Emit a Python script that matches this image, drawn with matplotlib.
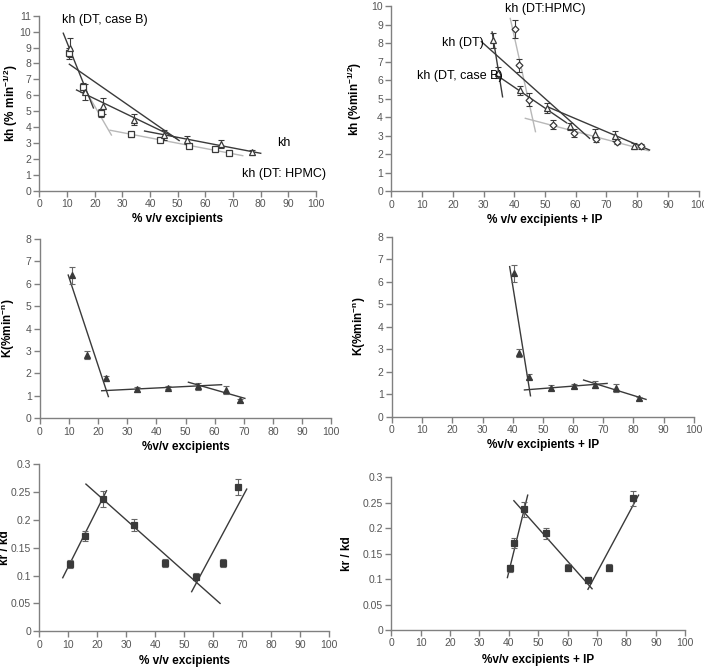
import numpy as np
import matplotlib
matplotlib.use("Agg")
import matplotlib.pyplot as plt

plt.rcParams['font.family'] = ['Liberation Sans', 'DejaVu Sans']
plt.rcParams['mathtext.fontset'] = 'custom'
plt.rcParams['mathtext.rm'] = 'Liberation Sans'
plt.rcParams['mathtext.it'] = 'Liberation Sans:italic'
plt.rcParams['mathtext.bf'] = 'Liberation Sans:bold'

# ---------------------------------
# Data
# ---------------------------------
XTICKS = np.arange(0, 101, 10)

# top left: kh vs % v/v excipients
kh_x = [11, 16.5, 23, 34, 45, 53.5, 65.5, 77]
kh_y = [9.0, 6.2, 5.3, 4.45, 3.5, 3.2, 2.95, 2.4]
kh_err = [0.6, 0.5, 0.5, 0.35, 0.3, 0.25, 0.25, 0.15]
hpmc_x = [10.7, 15.7, 22.2, 33.2, 43.5, 54, 63.6, 68.7]
hpmc_y = [8.65, 6.5, 4.9, 3.55, 3.2, 2.8, 2.62, 2.35]
hpmc_err = [0.35, 0.3, 0.25, 0.15, 0.12, 0.12, 0.1, 0.08]
# fitted segments (x0, x1), (y0, y1)
kh_fits_dark = [([8.6, 19.5], [9.9, 5.2]),
                ([10.8, 50.5], [7.95, 3.15]),
                ([13.4, 49.6], [6.33, 3.3]),
                ([38, 80], [3.75, 2.35])]
kh_fits_light = [([16, 26], [6.5, 3.5]),
                 ([25.5, 73.5], [3.8, 2.2])]

# top right: kh vs % v/v excipients + IP
khip_x = [33, 34.8, 41.9, 50.7, 58.1, 66.3, 72.8, 79]
khip_y = [8.15, 6.4, 5.45, 4.5, 3.5, 3.12, 2.98, 2.44]
khip_err = [0.4, 0.3, 0.25, 0.25, 0.2, 0.25, 0.25, 0.15]
hpmcip_x = [40.2, 41.5, 44.9, 52.5, 59.5, 66.6, 73.3, 81.2]
hpmcip_y = [8.75, 6.8, 4.95, 3.6, 3.15, 2.8, 2.68, 2.42]
hpmcip_err = [0.5, 0.35, 0.35, 0.25, 0.2, 0.15, 0.12, 0.12]
khip_fits_dark = [([32.8, 36.2], [8.6, 5.1]),
                  ([29.3, 64.5], [8.08, 2.86]),
                  ([34, 57], [6.3, 3.7]),
                  ([51, 84], [4.55, 2.23])]
khip_fits_light = [([38.7, 46.9], [9.33, 3.22]),
                   ([43.6, 83.7], [3.94, 2.19])]

# middle: K vs excipients / excipients + IP
K_x = [10.9, 16.0, 22.7, 33.2, 43.9, 54.2, 63.9, 68.7]
Kip_x = [40.6, 42.0, 45.5, 52.8, 60.2, 67.2, 74.3, 82.0]
K_y = [6.38, 2.83, 1.78, 1.29, 1.37, 1.42, 1.26, 0.81]
K_err = [0.38, 0.18, 0.1, 0.1, 0.08, 0.15, 0.18, 0.06]
K_fits = [([9.7, 23.5], [6.39, 0.97]),
          ([21.2, 62.4], [1.23, 1.5]),
          ([51, 70.4], [1.61, 0.89])]
Kip_fits = [([39, 45.9], [6.67, 0.93]),
            ([43.9, 71.3], [1.19, 1.48]),
            ([63.5, 84.2], [1.63, 0.77])]

# bottom: kr / kd
kr_x = [10.6, 15.8, 22.1, 32.8, 43.4, 54.0, 63.3, 68.5]
krip_x = [40.4, 41.8, 45.2, 52.7, 60.0, 66.9, 73.9, 82.1]
kr_y = [0.121, 0.171, 0.237, 0.19, 0.122, 0.098, 0.122, 0.259]
kr_err = [0.007, 0.009, 0.014, 0.011, 0.007, 0.006, 0.007, 0.015]
kr_fits = [([8.1, 23.2], [0.096, 0.252]),
           ([16.1, 62.4], [0.264, 0.050]),
           ([52.6, 71.6], [0.071, 0.255])]
krip_fits = [([39.5, 46.4], [0.103, 0.265]),
             ([41.7, 68.3], [0.254, 0.081]),
             ([66.9, 84.1], [0.080, 0.265])]
KR_TICKLABELS = ['0', '0.05', '0.1', '0.15', '0.2', '0.25', '0.3']

DARK = '#3a3a3a'
LIGHT = '#b8b8b8'
AXC = '#808080'


def style(ax, ylim, yticks, xlabel, ylabel, ylab_x, xlabelpad=3):
    ax.set_xlim(0, 100)
    ax.set_ylim(*ylim)
    ax.set_xticks(XTICKS)
    ax.set_yticks(yticks)
    for s in ['top', 'right']:
        ax.spines[s].set_visible(False)
    for s in ['left', 'bottom']:
        ax.spines[s].set_color(AXC)
        ax.spines[s].set_linewidth(1.0)
    ax.tick_params(direction='out', length=4, width=1, color=AXC,
                   labelsize=7.5, labelcolor='#555555', pad=2)
    ax.set_xlabel(xlabel, fontsize=8.5, fontweight='bold', labelpad=xlabelpad)
    ax.set_ylabel(ylabel, fontsize=8.5, fontweight='bold')
    # label coords: right edge of the rotated label
    ax.yaxis.set_label_coords(ylab_x, 0.5)


def fits(ax, segs, color, lw=1.0):
    for xs, ys in segs:
        ax.plot(xs, ys, color=color, lw=lw, zorder=2)


def errpts(ax, x, y, err, marker, filled, ms=4.5, ecolor=DARK):
    ax.errorbar(x, y, yerr=err, fmt='none', ecolor=ecolor, elinewidth=0.8,
                capsize=2.5, capthick=0.8, zorder=3)
    ax.plot(x, y, linestyle='none', marker=marker, ms=ms,
            mfc=DARK if filled else 'white', mec=DARK, mew=0.9, zorder=4)


fig = plt.figure(figsize=(7.04, 6.69), dpi=100)

# ---- top left
ax1 = fig.add_axes([0.0561, 0.7150, 0.3928, 0.2615])
fits(ax1, kh_fits_light, LIGHT)
fits(ax1, kh_fits_dark, DARK)
errpts(ax1, hpmc_x, hpmc_y, hpmc_err, 's', False, ms=4)
errpts(ax1, kh_x, kh_y, kh_err, '^', False)
style(ax1, (0, 11), np.arange(0, 12, 1), '% v/v excipients',
      r'kh (% min$^{\mathbf{-1/2}}$)', -0.072)
ax1.text(8.0, 10.7, 'kh (DT, case B)', fontsize=9, va='center', zorder=6)
ax1.text(85.8, 2.98, 'kh', fontsize=9, va='center', zorder=6)
ax1.text(73.2, 1.05, 'kh (DT: HPMC)', fontsize=9, va='center', zorder=6)

# ---- top right
ax2 = fig.add_axes([0.5558, 0.7140, 0.4367, 0.2770])
fits(ax2, khip_fits_light, LIGHT)
fits(ax2, khip_fits_dark, DARK)
errpts(ax2, hpmcip_x, hpmcip_y, hpmcip_err, 'D', False, ms=3.5)
errpts(ax2, khip_x, khip_y, khip_err, '^', False)
style(ax2, (0, 10), np.arange(0, 11, 1), '% v/v excipients + IP',
      r'kh (%min$^{\mathbf{-1/2}}$)', -0.089)
ax2.text(37.1, 9.84, 'kh (DT:HPMC)', fontsize=9, va='center', zorder=6)
ax2.text(16.5, 7.99, 'kh (DT)', fontsize=9, va='center', zorder=6)
ax2.text(8.3, 6.22, 'kh (DT, case B)', fontsize=9, va='center', zorder=6)

# ---- middle left
ax3 = fig.add_axes([0.0568, 0.3747, 0.4134, 0.2681])
fits(ax3, K_fits, DARK)
errpts(ax3, K_x, K_y, K_err, '^', True, ms=4.5, ecolor='#666666')
style(ax3, (0, 8), np.arange(0, 9, 1), '%v/v excipients',
      r'K(%min$^{\mathbf{-n}}$)', -0.079)

# ---- middle right
ax4 = fig.add_axes([0.5568, 0.3771, 0.4286, 0.2691])
fits(ax4, Kip_fits, DARK)
errpts(ax4, Kip_x, K_y, K_err, '^', True, ms=4.5, ecolor='#666666')
style(ax4, (0, 8), np.arange(0, 9, 1), '%v/v excipients + IP',
      r'K(%min$^{\mathbf{-n}}$)', -0.08)

# ---- bottom left
ax5 = fig.add_axes([0.0558, 0.0564, 0.4115, 0.2500])
fits(ax5, kr_fits, DARK)
errpts(ax5, kr_x, kr_y, kr_err, 's', True, ms=4, ecolor='#666666')
style(ax5, (0, 0.3), np.arange(0, 0.31, 0.05), '% v/v excipients',
      'kr / kd', -0.098, xlabelpad=4)
ax5.set_yticklabels(KR_TICKLABELS)

# ---- bottom right
ax6 = fig.add_axes([0.5558, 0.0583, 0.4176, 0.2282])
fits(ax6, krip_fits, DARK)
errpts(ax6, krip_x, kr_y, kr_err, 's', True, ms=4, ecolor='#666666')
style(ax6, (0, 0.3), np.arange(0, 0.31, 0.05), '%v/v excipients + IP',
      'kr / kd', -0.13, xlabelpad=4)
ax6.set_yticklabels(KR_TICKLABELS)

fig.savefig('out.png', dpi=100)
